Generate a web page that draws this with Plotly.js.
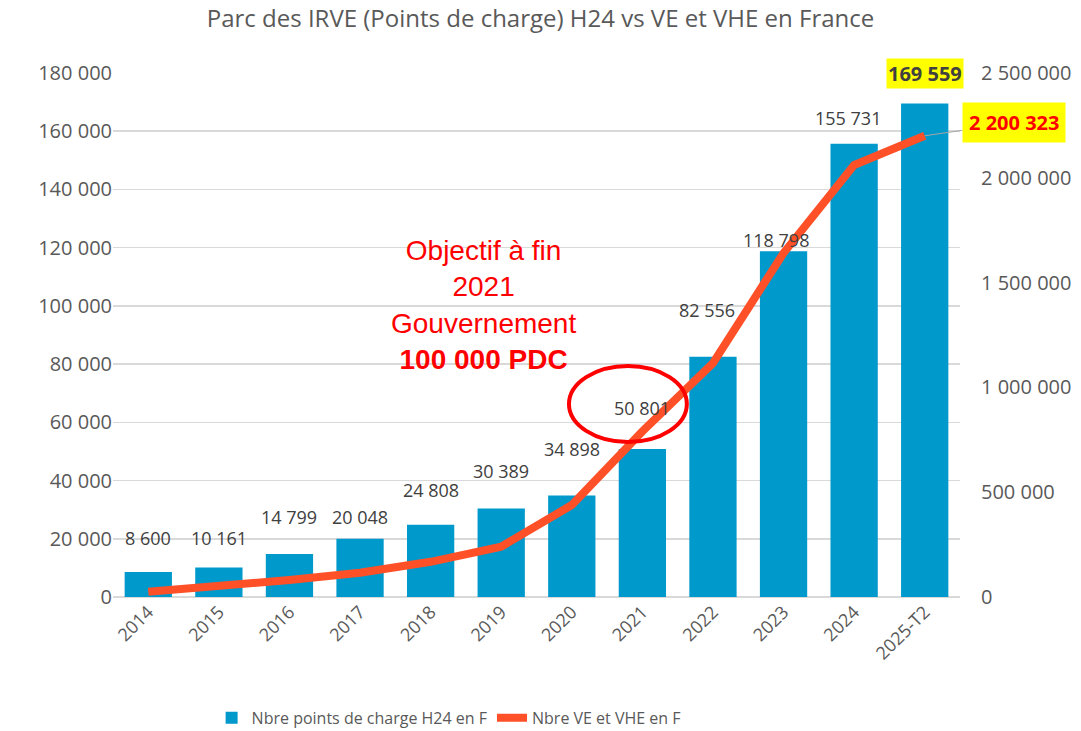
<!DOCTYPE html>
<html><head><meta charset="utf-8">
<script src="https://cdn.plot.ly/plotly-3.0.1.min.js"></script>
<style>html,body{margin:0;padding:0;background:#fff}#chart{width:1081px;height:731px}</style>
</head><body><div id="chart"></div><script>
const years = ['2014','2015','2016','2017','2018','2019','2020','2021','2022','2023','2024','2025-T2'];
const chargePoints = [8600,10161,14799,20048,24808,30389,34898,50801,82556,118798,155731,169559];
const evCount = [25000,49000,81000,116000,168000,240000,439000,790000,1116000,1641000,2061000,2200323];
const seriesNames = ['Nbre points de charge H24 en F','Nbre VE et VHE en F'];
const titleText = 'Parc des IRVE (Points de charge) H24 vs VE et VHE en France';
const goalText = 'Objectif à fin<br>2021<br>Gouvernement<br><b>100 000 PDC</b>';

function fmt(v){ return String(v).replace(/\B(?=(\d{3})+(?!\d))/g,' '); }
const last = years.length - 1;

const FONT = '"Open Sans", "Noto Sans", sans-serif';
const GREY = '#595959';

// pixel offsets of the hand-placed bar labels above each bar top (layout only)
const labelLift = [34,29,37,22,35,38,46,41,47,11,26];
const labelNudge = [0,0,0,0,0,0,0,0,-6,-8,-6];

const traces = [
  {type:'bar', name:seriesNames[0], x:years, y:chargePoints, marker:{color:'#0099cc'}},
  {type:'scatter', mode:'lines', name:seriesNames[1], x:years, y:evCount, yaxis:'y2',
   line:{color:'#ff5028',width:8}}
];

// category axis: annotation x given as category index
const barAnns = years.slice(0,last).map((yr,i)=>({
  x:i, y:chargePoints[i], xref:'x', yref:'y', text:fmt(chargePoints[i]), showarrow:false,
  yanchor:'middle', yshift:labelLift[i], xshift:labelNudge[i],
  font:{family:FONT,size:18,color:'#404040'}
}));

const layout = {
  width:1081, height:731,
  margin:{l:113,r:121,t:73,b:134},
  paper_bgcolor:'#fff', plot_bgcolor:'#fff',
  separators:', ',
  font:{family:FONT,color:GREY},
  title:{text:titleText, x:0.5, xanchor:'center', y:0.975, yanchor:'middle', font:{family:FONT,size:24,color:GREY}},
  bargap:0.33,
  showlegend:true,
  legend:{orientation:'h', xref:'container', yref:'container', x:0.415, xanchor:'center', y:0.018, yanchor:'middle',
          font:{family:FONT,size:16,color:GREY}},
  xaxis:{type:'category', range:[-0.5,11.5], automargin:false, tickangle:-45, tickfont:{family:FONT,size:18,color:GREY}, showgrid:false, showline:false, zeroline:false, ticks:''},
  yaxis:{range:[0,180000], dtick:20000, tickformat:',d', showgrid:true, gridcolor:'#d9d9d9', gridwidth:1.5, automargin:false,
         zeroline:true, zerolinecolor:'#d9d9d9', zerolinewidth:1.5, tickfont:{family:FONT,size:20,color:GREY}, ticks:''},
  yaxis2:{overlaying:'y', side:'right', range:[0,2500000], dtick:500000, tickformat:',d', showgrid:false, zeroline:false, automargin:false,
          tickfont:{family:FONT,size:20,color:GREY}, ticks:'', ticklabelstandoff:20},
  shapes:[
    {type:'circle', xref:'x', yref:'y', x0:5.96, x1:7.63, y0:53240, y1:79350, line:{color:'#ff0000',width:4}}
  ],
  annotations: barAnns.concat([
    {x:last, y:180000, xref:'x', yref:'y', text:'<b>'+fmt(chargePoints[last])+'</b>', showarrow:false,
     bgcolor:'#ffff00', borderpad:1, yanchor:'middle', font:{family:FONT,size:20,color:'#404040'}},
    {x:last, y:evCount[last], xref:'x', yref:'y2', text:'<b>'+fmt(evCount[last])+'</b>', showarrow:true,
     arrowhead:0, arrowwidth:1, arrowcolor:'#a6a6a6', ax:89, ay:-13, bgcolor:'#ffff00', borderpad:6,
     font:{family:FONT,size:20,color:'#ff0000'}},
    {x:4.75, y:100300, xref:'x', yref:'y', text:goalText, showarrow:false, align:'center',
     font:{family:'"Liberation Sans", Arial, sans-serif', size:28, color:'#ff0000'}}
  ])
};
Plotly.newPlot('chart', traces, layout, {displayModeBar:false, staticPlot:true});
</script></body></html>
